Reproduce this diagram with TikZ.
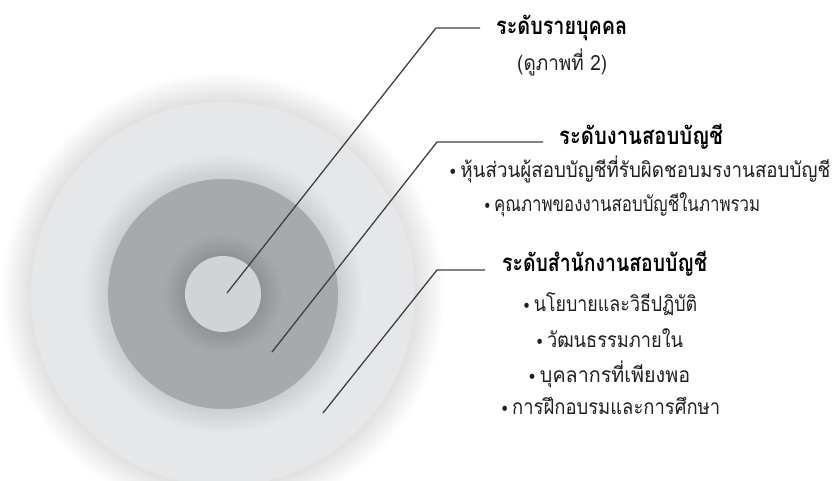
\documentclass[tikz,border=0pt]{standalone}
\usepackage{fontspec}
\usepackage{graphicx}
\newfontfamily\thaifont[Script=Thai]{Loma}
\newfontfamily\symfont{DejaVu Sans}
\definecolor{biggray}{RGB}{230,231,232}
\definecolor{midgray}{RGB}{167,169,172}
\definecolor{smallgray}{RGB}{209,211,212}
\definecolor{linegray}{RGB}{65,64,66}
\definecolor{textdark}{RGB}{35,31,32}
\newcommand{\bul}{\raisebox{-0.5pt}{\symfont\fontsize{18}{18}\selectfont •}\hspace{3pt}}
\newcommand{\fitw}[2]{\resizebox{#1pt}{\height}{#2}}
\begin{document}
\begin{tikzpicture}[x=1pt,y=-1pt,
  lead/.style={draw=linegray, line width=1.3pt},
  head/.style={font=\thaifont\bfseries\fontsize{24}{28}\selectfont, text=black, inner sep=0pt, anchor=base west},
  item/.style={font=\thaifont\fontsize{21}{24}\selectfont, text=textdark, inner sep=0pt, anchor=base west},
]
\useasboundingbox (0,0) rectangle (839,481);
\coordinate (C) at (223,294);
% large disc with soft halo
\foreach \i in {0,...,29} \fill[black,opacity=0.0035] (C) circle [radius={(222-\i)*1pt}];
\fill[biggray] (C) circle [radius=192pt];
\foreach \i in {0,...,24} \fill[black,opacity=0.0028] (C) circle [radius={(140-\i)*1pt}];
\fill[midgray] (C) circle [radius=115pt];
\foreach \i in {0,...,20} \fill[black,opacity=0.004] (C) circle [radius={(60-\i)*1pt}];
\fill[smallgray] (C) circle [radius=38pt];

% texts
\node[head] (h1) at (496,35) {\fitw{131}{ระดับรายบุคคล}};
\node[item] (s1) at (517,71) {\fitw{90}{(ดูภาพที่ 2)}};
\node[head] (h2) at (559,145) {\fitw{164}{ระดับงานสอบบัญชี}};
\node[item] (a1) at (448,178) {\fitw{382}{\bul หุ้นส่วนผู้สอบบัญชีที่รับผิดชอบมรงานสอบบัญชี}};
\node[item] (a2) at (483,212) {\fitw{277}{\bul คุณภาพของงานสอบบัญชีในภาพรวม}};
\node[head] (h3) at (502,272) {\fitw{205}{ระดับสำนักงานสอบบัญชี}};
\node[item] (b1) at (522,312) {\fitw{175}{\bul นโยบายและวิธีปฏิบัติ}};
\node[item] (b2) at (535,348) {\fitw{148}{\bul วัฒนธรรมภายใน}};
\node[item] (b3) at (527,383) {\fitw{163}{\bul บุคลากรที่เพียงพอ}};
\node[item] (b4) at (500,415) {\fitw{220}{\bul การฝึกอบรมและการศึกษา}};

% leader lines
\coordinate (p1) at (227,293); \coordinate (k1) at (436,28); \coordinate (e1) at (480,28);
\coordinate (p2) at (272,352); \coordinate (k2) at (437,142); \coordinate (e2) at (543,142);
\coordinate (p3) at (323,413); \coordinate (k3) at (437,270); \coordinate (e3) at (485,270);
\draw[lead] (p1) -- (k1) -- (e1);
\draw[lead] (p2) -- (k2) -- (e2);
\draw[lead] (p3) -- (k3) -- (e3);
\end{tikzpicture}
\end{document}
